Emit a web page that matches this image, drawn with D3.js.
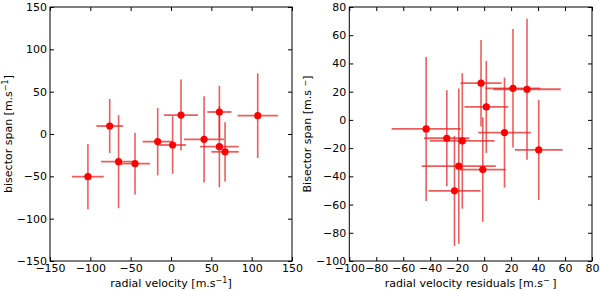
<!DOCTYPE html>
<html><head><meta charset="utf-8">
<script src="https://cdn.jsdelivr.net/npm/d3@7"></script>
<style>
body{margin:0;background:#fff;}
text{font-family:"DejaVu Sans",sans-serif;font-size:11px;fill:#000;}
</style></head>
<body><svg id="c" width="600" height="291"></svg>
<script>
// Left panel: radial velocity vs bisector span
const rv      = [-76, -16.5, 2, 12.4, 41, 60, 60, 107.5, -103, -65, -44.6, 67];
const rvErr   = [16.5, 18.6, 16.5, 21, 25, 15, 24, 25, 19.6, 21.7, 18.6, 17];
const bis1    = [9.4, -9, -13, 22.4, -6.3, 26, -15, 21.6, -50.4, -32.7, -35, -21];
const bis1Err = [32, 40, 34, 42, 51, 31, 48, 50, 38.6, 55, 36.6, 35];
// Right panel: residuals vs bisector span
const res     = [-43, -27.7, -16.2, -2.3, 1.6, 15.1, 21.4, 31.8, 40.5, -18.8, -1, -22];
const resErr  = [25.6, 16.8, 24, 15.2, 16.2, 19.5, 20.4, 25, 17.7, 27.5, 17, 19.3];
const bis2    = [-6.4, -13, -14.9, 26, 9.2, -9, 22.4, 21.7, -21.3, -32.8, -35.2, -50.3];
const bis2Err = [51, 34, 48, 30.7, 32.6, 39, 42, 50, 35.5, 55, 37, 39];

const leftTicks = [-150, -100, -50, 0, 50, 100, 150];
const rightXTicks = [-100, -80, -60, -40, -20, 0, 20, 40, 60, 80];
const rightYTicks = [-100, -80, -60, -40, -20, 0, 20, 40, 60, 80];

const svg = d3.select("#c");
const plotTop = 7, plotBottom = 261;
const fmt = d => d < 0 ? "\u2212" + Math.abs(d) : String(d);

function panel(x0, x1, xDom, yDom, xTicks, yTicks, xs, xe, ys, ye, xlabel, ylabel) {
  const x = d3.scaleLinear().domain(xDom).range([x0, x1]);
  const y = d3.scaleLinear().domain(yDom).range([plotBottom, plotTop]);
  const g = svg.append("g");
  const idx = d3.range(xs.length);
  const col = "rgba(228,30,30,0.72)";
  g.selectAll(".h").data(idx).enter().append("line")
    .attr("x1", i => x(xs[i] - xe[i])).attr("x2", i => x(xs[i] + xe[i]))
    .attr("y1", i => y(ys[i])).attr("y2", i => y(ys[i]))
    .attr("stroke", col).attr("stroke-width", 1.8);
  g.selectAll(".v").data(idx).enter().append("line")
    .attr("x1", i => x(xs[i])).attr("x2", i => x(xs[i]))
    .attr("y1", i => y(ys[i] - ye[i])).attr("y2", i => y(ys[i] + ye[i]))
    .attr("stroke", col).attr("stroke-width", 1.6);
  g.selectAll("circle").data(idx).enter().append("circle")
    .attr("cx", i => x(xs[i])).attr("cy", i => y(ys[i])).attr("r", 3.6)
    .attr("fill", "#ff0000");
  const ax = (gen, tr) => g.append("g").attr("transform", tr).call(gen)
    .call(s => s.select(".domain").remove())
    .call(s => s.selectAll("line").attr("stroke", "#000"));
  ax(d3.axisBottom(x).tickValues(xTicks).tickSize(-4).tickPadding(3).tickFormat(fmt), `translate(0,${plotBottom})`);
  ax(d3.axisTop(x).tickValues(xTicks).tickSize(-4).tickFormat(""), `translate(0,${plotTop})`);
  ax(d3.axisLeft(y).tickValues(yTicks).tickSize(-4).tickPadding(3).tickFormat(fmt), `translate(${x0},0)`);
  ax(d3.axisRight(y).tickValues(yTicks).tickSize(-4).tickFormat(""), `translate(${x1},0)`);
  g.selectAll(".tick text").style("font-family", "DejaVu Sans").style("font-size", "11px").attr("fill", "#000");
  g.append("rect").attr("x", x0).attr("y", plotTop).attr("width", x1 - x0).attr("height", plotBottom - plotTop)
    .attr("fill", "none").attr("stroke", "#000").attr("stroke-width", 1);
  const xl = g.append("text").attr("x", (x0 + x1) / 2).attr("y", 287).attr("text-anchor", "middle");
  xlabel(xl);
  const yl = g.append("text").attr("transform", `translate(${x0 - 38},${(plotTop + plotBottom) / 2}) rotate(-90)`)
    .attr("text-anchor", "middle");
  ylabel(yl);
}

panel(50, 292, [-150, 150], [-150, 150], leftTicks, leftTicks, rv, rvErr, bis1, bis1Err,
  t => { t.append("tspan").text("radial velocity [m.s");
         t.append("tspan").attr("dy", -4).style("font-size", "8px").text("\u22121");
         t.append("tspan").attr("dy", 4).text("]"); },
  t => { t.append("tspan").text("bisector span [m.s");
         t.append("tspan").attr("dy", -4).style("font-size", "8px").text("\u22121");
         t.append("tspan").attr("dy", 4).text("]"); });

panel(349.3, 592, [-100, 80], [-100, 80], rightXTicks, rightYTicks, res, resErr, bis2, bis2Err,
  t => { t.append("tspan").text("radial velocity residuals [m.s");
         t.append("tspan").attr("dy", -4).style("font-size", "8px").text("\u2212 ");
         t.append("tspan").attr("dy", 4).text(" ]"); },
  t => { t.append("tspan").text("Bisector span [m.s ");
         t.append("tspan").attr("dy", -3).style("font-size", "8px").text("\u2212");
         t.append("tspan").attr("dy", 3).text("]"); });
</script></body></html>
